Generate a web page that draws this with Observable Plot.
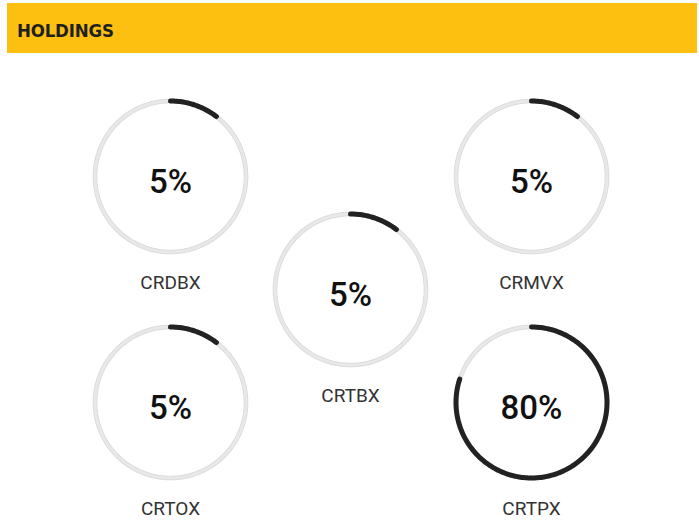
<!DOCTYPE html>
<html>
<head>
<meta charset="utf-8">
<script src="https://cdn.jsdelivr.net/npm/d3@7"></script>
<script src="https://cdn.jsdelivr.net/npm/@observablehq/plot@0.6"></script>
<style>
  html, body { margin: 0; padding: 0; background: #fff; }
  #header {
    position: absolute; left: 7px; top: 3px; width: 690px; height: 50px;
    background: #FDC010; box-sizing: border-box;
    font-family: "DejaVu Sans Condensed", "DejaVu Sans", sans-serif; font-weight: bold;
    font-size: 18.5px; color: #1f1f1f; line-height: 50px; padding-top: 3px; padding-left: 10px;
    letter-spacing: -0.2px; overflow: hidden;
  }
  #chart { position: absolute; left: 0; top: 53px; }
</style>
</head>
<body>
<div id="header">HOLDINGS</div>
<div id="chart"></div>
<script>
// Data
const tickers = ["CRDBX", "CRMVX", "CRTBX", "CRTOX", "CRTPX"];
const weights = [5, 5, 5, 5, 80];            // labelled percentages
const arcShares = [10.4, 10.4, 10.4, 10.4, 80]; // drawn arc length (% of circle), as seen

const W = 699, H = 467;
// layout slots (column, row) for each donut
const slots = [[0, 0], [2, 0], [1, 1], [0, 2], [2, 2]];
const colX = [170, 350, 531];
const rowY = [123, 236, 349];
const R = 75.5;

const donuts = tickers.map((t, i) => ({
  ticker: t,
  weight: weights[i],
  share: arcShares[i],
  cx: colX[slots[i][0]],
  cy: rowY[slots[i][1]]
}));

const angle = d3.scaleLinear().domain([0, 100]).range([0, 2 * Math.PI]);

// sample each arc
const arcPts = donuts.flatMap(d => {
  const n = Math.max(8, Math.round(d.share * 3));
  return d3.range(n + 1).map(k => {
    const a = angle(d.share * k / n);
    return {ticker: d.ticker, x: d.cx + R * Math.sin(a), y: d.cy - R * Math.cos(a)};
  });
});

const ringPts = donuts.flatMap(d =>
  d3.range(241).map(k => {
    const a = angle(100 * k / 240);
    return {ticker: d.ticker, x: d.cx + R * Math.sin(a), y: d.cy - R * Math.cos(a)};
  })
);

const plot = Plot.plot({
  width: W,
  height: H,
  margin: 0,
  x: {domain: [0, W], range: [0, W], axis: null},
  y: {domain: [0, H], range: [0, H], axis: null},
  marks: [
    Plot.line(ringPts, {x: "x", y: "y", z: "ticker", stroke: "#d9d9d9", strokeWidth: 4.6, curve: "linear"}),
    Plot.line(ringPts, {x: "x", y: "y", z: "ticker", stroke: "#e8e8e8", strokeWidth: 3, curve: "linear"}),
    Plot.line(arcPts, {x: "x", y: "y", z: "ticker", stroke: "#222222", strokeWidth: 5, curve: "linear"}),
    Plot.text(donuts, {
      x: "cx", y: d => d.cy + 6, text: d => d.weight + "%",
      fontSize: 33, fontWeight: 500, fill: "#111", fontFamily: "Roboto",
      textAnchor: "middle", lineAnchor: "middle"
    }),
    Plot.text(donuts, {
      x: "cx", y: d => d.cy + 106, text: "ticker",
      fontSize: 19, fill: "#333", fontFamily: "Roboto",
      textAnchor: "middle", lineAnchor: "middle"
    })
  ]
});
document.getElementById("chart").appendChild(plot);
</script>
</body>
</html>
